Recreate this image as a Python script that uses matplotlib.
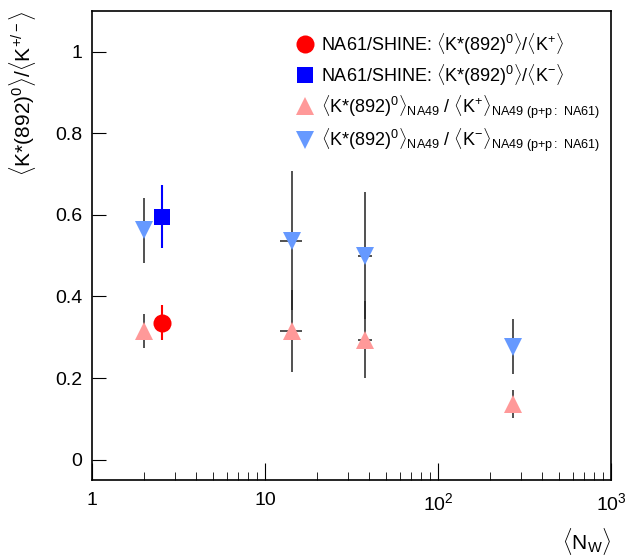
import numpy as np
import matplotlib
matplotlib.use('Agg')
import matplotlib.pyplot as plt
from matplotlib.lines import Line2D
from matplotlib.ticker import FixedLocator, NullFormatter

plt.rcParams['font.family'] = ['Liberation Sans', 'DejaVu Sans']
plt.rcParams['mathtext.fontset'] = 'custom'
plt.rcParams['mathtext.rm'] = 'Liberation Sans'
plt.rcParams['mathtext.it'] = 'Liberation Sans'

# NA61/SHINE p+p
na61_x = [2.55]
na61_kp = [0.336]
na61_kp_err = [0.042]
na61_km = [0.596]
na61_km_err = [0.078]

# NA49 (p+p from NA61)
na49_x = [2.0, 14.3, 38.0, 270.0]
na49_xerr = [0.0, 2.1, 3.5, 0.0]
na49_kp = [0.315, 0.315, 0.294, 0.137]
na49_kp_err = [0.042, 0.100, 0.095, 0.034]
na49_km = [0.562, 0.537, 0.500, 0.277]
na49_km_err = [0.080, 0.170, 0.155, 0.068]

fig = plt.figure(figsize=(6.27, 5.56), dpi=100)
ax = fig.add_axes([0.1467, 0.1367, 0.828, 0.8435])

pink = '#ff9999'
lblue = '#6699ff'

# NA49 points
ax.errorbar(na49_x, na49_km, yerr=na49_km_err, xerr=na49_xerr, fmt='v', ms=13,
            color=lblue, ecolor='#222222', elinewidth=1.1, capsize=2.5, mew=0, zorder=3)
ax.errorbar(na49_x, na49_kp, yerr=na49_kp_err, xerr=na49_xerr, fmt='^', ms=13,
            color=pink, ecolor='#222222', elinewidth=1.1, capsize=2.5, mew=0, zorder=3)

# NA61 points
ax.errorbar(na61_x, na61_km, yerr=na61_km_err, fmt='s', ms=12, color='#0000ff',
            elinewidth=1.5, capsize=2.5, mew=0, zorder=4)
ax.errorbar(na61_x, na61_kp, yerr=na61_kp_err, fmt='o', ms=13, color='#ff0000',
            elinewidth=1.5, capsize=2.5, mew=0, zorder=4)

ax.set_xscale('log')
ax.set_xlim(1, 1000)
ax.set_ylim(-0.05, 1.1)

ax.xaxis.set_major_locator(FixedLocator([1, 10, 100, 1000]))
ax.set_xticklabels(['1', '10', '$10^{2}$', '$10^{3}$'])
minors = [m * d for d in [1, 10, 100] for m in range(2, 10)]
ax.xaxis.set_minor_locator(FixedLocator(minors))
ax.xaxis.set_minor_formatter(NullFormatter())
ax.set_yticks([0, 0.2, 0.4, 0.6, 0.8, 1.0])
ax.set_yticklabels(['0', '0.2', '0.4', '0.6', '0.8', '1'])

ax.tick_params(axis='both', which='both', direction='in', labelsize=14,
               top=False, right=False)
ax.tick_params(axis='x', which='major', length=12, pad=9)
ax.tick_params(axis='x', which='minor', length=6)
ax.tick_params(axis='y', which='major', length=10, pad=7)
for s in ax.spines.values():
    s.set_linewidth(1.2)

ax.set_ylabel(r'$\langle$K*(892)$^{0}\rangle$/$\langle$K$^{+/-}\rangle$',
              fontsize=15, loc='top', labelpad=12)
ax.set_xlabel(r'$\langle$N$_{\mathrm{W}}\rangle$', fontsize=15, loc='right', labelpad=8)

handles = [
    Line2D([], [], ls='none', marker='o', ms=13, color='#ff0000', mew=0),
    Line2D([], [], ls='none', marker='s', ms=12, color='#0000ff', mew=0),
    Line2D([], [], ls='none', marker='^', ms=13, color=pink, mew=0),
    Line2D([], [], ls='none', marker='v', ms=13, color=lblue, mew=0),
]
labels = [
    r'NA61/SHINE: $\langle$K*(892)$^{0}\rangle$/$\langle$K$^{+}\rangle$',
    r'NA61/SHINE: $\langle$K*(892)$^{0}\rangle$/$\langle$K$^{-}\rangle$',
    r'$\langle$K*(892)$^{0}\rangle_{\mathrm{NA49}}$ / $\langle$K$^{+}\rangle_{\mathrm{NA49\ (p{+}p{:}\ NA61)}}$',
    r'$\langle$K*(892)$^{0}\rangle_{\mathrm{NA49}}$ / $\langle$K$^{-}\rangle_{\mathrm{NA49\ (p{+}p{:}\ NA61)}}$',
]
ax.legend(handles, labels, loc='upper right', bbox_to_anchor=(1.0, 0.98), frameon=False,
          fontsize=13, handlelength=1.0, handletextpad=0.4, labelspacing=0.3,
          borderaxespad=0.2)

fig.savefig('out.png', dpi=100)
